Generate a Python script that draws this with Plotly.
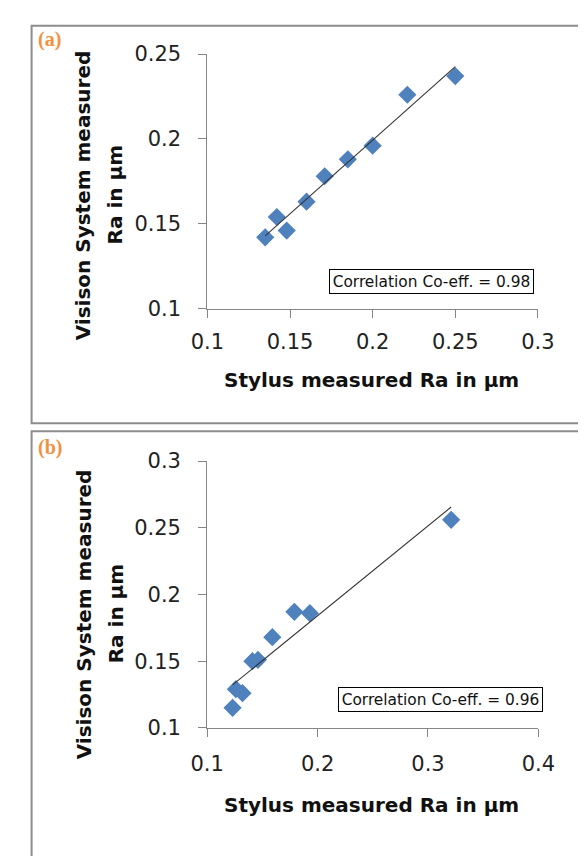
import numpy as np
import plotly.graph_objects as go

W, H = 586, 856

# ---------------- data ----------------
a_stylus = [0.135, 0.142, 0.148, 0.160, 0.171, 0.185, 0.200, 0.221, 0.250]
a_vision = [0.142, 0.154, 0.146, 0.163, 0.178, 0.188, 0.196, 0.226, 0.237]
a_xticks = [0.1, 0.15, 0.2, 0.25, 0.3]
a_yticks = [0.1, 0.15, 0.2, 0.25]
a_corr = "Correlation Co-eff. = 0.98"

b_stylus = [0.123, 0.126, 0.132, 0.141, 0.146, 0.159, 0.179, 0.193, 0.321]
b_vision = [0.115, 0.129, 0.126, 0.150, 0.151, 0.168, 0.187, 0.186, 0.256]
b_xticks = [0.1, 0.2, 0.3, 0.4]
b_yticks = [0.1, 0.15, 0.2, 0.25, 0.3]
b_corr = "Correlation Co-eff. = 0.96"

x_title = "Stylus measured Ra in µm"
y_title_1 = "Visison System measured"
y_title_2 = "Ra in µm"
panel_labels = ["(a)", "(b)"]


def px(x):
    return x / W


def py(y):
    return 1 - y / H


BLUE = "#4F81BD"
AXC = "#868686"
ORANGE = "#F39040"

fig = go.Figure()


def add_panel(xs, ys, xa, ya):
    fig.add_trace(go.Scatter(
        x=xs, y=ys, mode="markers", xaxis=xa, yaxis=ya,
        marker=dict(symbol="diamond", size=14, color=BLUE, line=dict(width=0)),
        showlegend=False, hoverinfo="skip"))
    k, c = np.polyfit(xs, ys, 1)
    lx = [min(xs), max(xs)]
    ly = [k * v + c for v in lx]
    fig.add_trace(go.Scatter(
        x=lx, y=ly, mode="lines", xaxis=xa, yaxis=ya,
        line=dict(color="#333333", width=1.1),
        showlegend=False, hoverinfo="skip"))


add_panel(a_stylus, a_vision, "x", "y")
add_panel(b_stylus, b_vision, "x2", "y2")

tickfont = dict(family="DejaVu Sans", size=21, color="#222222")


def axis(domain, rng, ticks, anchor, standoff):
    return dict(domain=domain, range=rng, anchor=anchor,
                tickvals=ticks, ticktext=[f"{t:g}" for t in ticks],
                showline=True, linecolor=AXC, linewidth=1,
                ticks="outside", ticklen=8, tickcolor=AXC, tickwidth=1,
                showgrid=False, zeroline=False, tickfont=tickfont,
                ticklabelstandoff=standoff, fixedrange=True)


fig.update_layout(
    xaxis=axis([px(193.6), px(544.5)], [0.1, 0.3], a_xticks, "y", 6),
    yaxis=axis([py(297), py(35)], [0.1, 0.25], a_yticks, "x", 13),
    xaxis2=axis([px(193.4), px(545)], [0.1, 0.4], b_xticks, "y2", 9),
    yaxis2=axis([py(728.3), py(453.8)], [0.1, 0.3], b_yticks, "x2", 13),
)

shapes = [
    dict(type="rect", xref="paper", yref="paper",
         x0=px(7), x1=px(640), y0=py(6), y1=py(415),
         line=dict(color="#8c8c8c", width=2)),
    dict(type="rect", xref="paper", yref="paper",
         x0=px(7), x1=px(640), y0=py(423), y1=py(920),
         line=dict(color="#8c8c8c", width=2)),
]

titlefont = dict(family="DejaVu Sans", size=20, color="#111111")
ann = []
for lab, (lx, ly) in zip(panel_labels, [(12, 6), (12, 426)]):
    ann.append(dict(text=f"<b>{lab}</b>", x=px(lx), y=py(ly), xref="paper", yref="paper",
                    xanchor="left", yanchor="top", showarrow=False,
                    font=dict(family="Liberation Serif", size=20, color=ORANGE)))

for cy_title, cy_x in [(180, 370), (611, 808)]:
    ann.append(dict(text=f"<b>{y_title_1}</b>", x=px(62), y=py(cy_title), xref="paper", yref="paper",
                    textangle=-90, xanchor="center", yanchor="middle", showarrow=False, font=titlefont))
    ann.append(dict(text=f"<b>{y_title_2}</b>", x=px(96), y=py(cy_title), xref="paper", yref="paper",
                    textangle=-90, xanchor="center", yanchor="middle", showarrow=False, font=titlefont))
    ann.append(dict(text=f"<b>{x_title}</b>", x=px(368), y=py(cy_x), xref="paper", yref="paper",
                    xanchor="center", yanchor="middle", showarrow=False, font=titlefont))

for txt, (cx, cy) in [(a_corr, (431.6, 268.8)), (b_corr, (441, 699.3))]:
    ann.append(dict(text=txt, x=px(cx), y=py(cy), xref="paper", yref="paper",
                    xanchor="center", yanchor="middle", showarrow=False,
                    width=203, height=23, borderpad=0, align="center",
                    bordercolor="#000000", borderwidth=1, bgcolor="white",
                    font=dict(family="DejaVu Sans", size=15.4, color="#111111")))

fig.update_layout(
    width=W, height=H, autosize=False,
    margin=dict(l=0, r=0, t=0, b=0),
    paper_bgcolor="white", plot_bgcolor="white",
    shapes=shapes, annotations=ann,
)

fig.write_html("out.html")
